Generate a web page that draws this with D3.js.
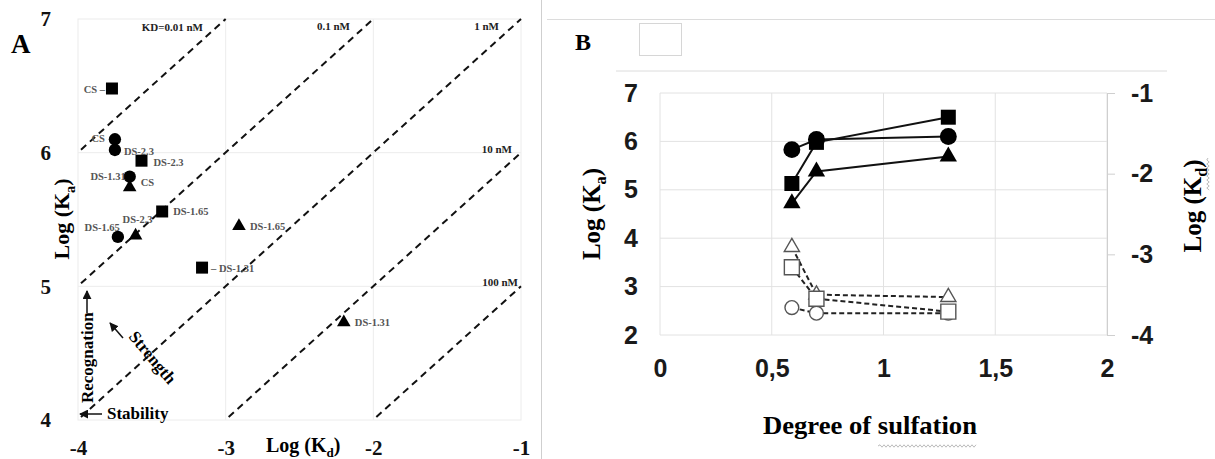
<!DOCTYPE html>
<html>
<head>
<meta charset="utf-8">
<script src="https://cdn.jsdelivr.net/npm/d3@7"></script>
<style>
  body { margin: 0; background: #fff; }
  svg { display: block; }
  .serif { font-family: "Liberation Serif", "Times New Roman", serif; font-weight: bold; }
  .sans { font-family: "Liberation Sans", Arial, sans-serif; font-weight: bold; }
</style>
</head>
<body>
<script>
// ---- panel A data ----
const kdLineIntercepts = [10, 9, 8, 7, 6];           // log Ka = log Kd + c
const kdLineLabels = ["KD=0.01 nM", "0.1 nM", "1 nM", "10 nM", "100 nM"];
const ticksAx = [-4, -3, -2, -1];
const ticksAy = [4, 5, 6, 7];

const pointShapesA = ["square", "circle", "circle", "square", "circle", "triangle",
                      "square", "circle", "triangle", "triangle", "square", "triangle"];
const pointLogKd = [-3.77, -3.75, -3.75, -3.57, -3.65, -3.65, -3.43, -3.73, -3.61, -2.91, -3.16, -2.20];
const pointLogKa = [6.48, 6.10, 6.02, 5.94, 5.82, 5.74, 5.56, 5.37, 5.38, 5.45, 5.14, 4.73];
const pointNames = ["CS \u2013", "CS", "DS-2.3", "DS-2.3", "DS-1.31", "CS",
                    "DS-1.65", "DS-1.65", "DS-2.3", "DS-1.65", "\u2013 DS-1.31", "DS-1.31"];
// label placement (dx, dy, anchor) per point
const labelPlace = [[-7, 4, "end"], [-10, 3, "end"], [9, 5, "start"], [12, 5, "start"],
                    [-4, 3, "end"], [11, -1, "start"], [11, 4, "start"], [2, -6, "end"],
                    [2, -13, "middle"], [11, 4, "start"], [9, 4, "start"], [11, 4, "start"]];

// ---- panel B data ----
const degree = [0.59, 0.70, 1.29];
const ticksBx = [0, 0.5, 1, 1.5, 2];
const ticksBy = [2, 3, 4, 5, 6, 7];
const ticksBy2 = [-4, -3, -2, -1];
const kaCircle = [5.83, 6.04, 6.10];
const kaSquare = [5.13, 5.98, 6.50];
const kaTriangle = [4.72, 5.38, 5.69];
const kdCircle = [-3.66, -3.73, -3.73];
const kdSquare = [-3.16, -3.55, -3.71];
const kdTriangle = [-2.91, -3.50, -3.53];

const W = 1215, H = 459;
const svg = d3.select("body").append("svg").attr("width", W).attr("height", H);

const symType = { square: d3.symbolSquare, circle: d3.symbolCircle, triangle: d3.symbolTriangle };

function subTitle(g, sub, size, transform, anchor) {
  const t = g.append("text").attr("class", "serif").attr("font-size", size)
    .attr("transform", transform).attr("text-anchor", anchor);
  t.append("tspan").text("Log (K");
  t.append("tspan").attr("font-size", size * 0.65).attr("dy", size * 0.25).text(sub);
  t.append("tspan").attr("dy", -size * 0.25).text(")");
  return t;
}

// ================= Panel A =================
const xA = d3.scaleLinear().domain([-4, -1]).range([78, 521]);
const yA = d3.scaleLinear().domain([4, 7]).range([420, 19]);
const gA = svg.append("g");

gA.append("rect").attr("x", 78).attr("y", 19).attr("width", 443).attr("height", 401)
  .attr("fill", "none").attr("stroke", "#ececec");
gA.selectAll(".gx").data([-3, -2]).enter().append("line")
  .attr("x1", d => xA(d)).attr("x2", d => xA(d)).attr("y1", 19).attr("y2", 420)
  .attr("stroke", "#ececec");
gA.selectAll(".gy").data([5, 6]).enter().append("line")
  .attr("y1", d => yA(d)).attr("y2", d => yA(d)).attr("x1", 78).attr("x2", 521)
  .attr("stroke", "#ececec");

// iso-KD dashed lines, clipped to the plot
const kdSegs = kdLineIntercepts.map(c => {
  const x0 = Math.max(-4, 4 - c), x1 = Math.min(-1, 7 - c);
  return { c, x0, x1 };
});
gA.selectAll(".kd").data(kdSegs).enter().append("line")
  .attr("x1", d => xA(d.x0) + 3).attr("y1", d => yA(d.x0 + d.c) - 3)
  .attr("x2", d => xA(d.x1)).attr("y2", d => yA(d.x1 + d.c))
  .attr("stroke", "#111").attr("stroke-width", 2).attr("stroke-dasharray", "7,5");

const kdLabelPos = [[203, 31], [350, 30], [499, 30], [512, 153], [518, 286]];
gA.selectAll(".kdl").data(kdLineLabels).enter().append("text")
  .attr("class", "serif").attr("x", (d, i) => kdLabelPos[i][0]).attr("y", (d, i) => kdLabelPos[i][1])
  .attr("text-anchor", "end").attr("font-size", 11).attr("fill", "#222").text(d => d);

// axes
const axAy = d3.axisLeft(yA).tickValues(ticksAy).tickSize(0).tickPadding(27).tickFormat(d => String(d));
gA.append("g").attr("transform", "translate(78,0)").call(axAy)
  .call(g => g.select(".domain").remove())
  .selectAll("text").attr("class", "serif").attr("font-size", 21).attr("fill", "#111");
const axAx = d3.axisBottom(xA).tickValues(ticksAx).tickSize(0).tickPadding(20).tickFormat(d => String(d));
gA.append("g").attr("transform", "translate(0,420)").call(axAx)
  .call(g => g.select(".domain").remove())
  .selectAll("text").attr("class", "serif").attr("font-size", 21).attr("fill", "#111");

gA.append("text").attr("class", "serif").attr("x", 11).attr("y", 53).attr("font-size", 27).text("A");

subTitle(gA, "a", 22, "translate(69,219) rotate(-90)", "middle");
subTitle(gA, "d", 20, "translate(266,452)", "start");

// annotations
gA.append("text").attr("class", "serif").attr("font-size", 17)
  .attr("transform", "translate(93,403) rotate(-90)").text("Recognation");
gA.append("text").attr("class", "serif").attr("font-size", 17)
  .attr("x", 107).attr("y", 419).text("Stability");
gA.append("text").attr("class", "serif").attr("font-size", 17)
  .attr("transform", "translate(128,337) rotate(50)").text("Strength");

svg.append("defs").append("marker").attr("id", "arr").attr("viewBox", "0 0 10 10")
  .attr("refX", 9).attr("refY", 5).attr("markerWidth", 6).attr("markerHeight", 6)
  .attr("orient", "auto").append("path").attr("d", "M0,0L10,5L0,10z").attr("fill", "#111");
const arrows = [[87, 313, 87, 291], [102, 414, 80, 414], [123, 338, 110, 323]];
gA.selectAll(".arr").data(arrows).enter().append("line")
  .attr("x1", d => d[0]).attr("y1", d => d[1]).attr("x2", d => d[2]).attr("y2", d => d[3])
  .attr("stroke", "#111").attr("stroke-width", 1.5).attr("marker-end", "url(#arr)");

// points
const sizeA = { square: 144, circle: 120, triangle: 80 };
const ptsA = pointShapesA.map((s, i) => ({ s, kd: pointLogKd[i], ka: pointLogKa[i], name: pointNames[i], p: labelPlace[i] }));
gA.selectAll(".pt").data(ptsA).enter().append("path")
  .attr("transform", d => `translate(${xA(d.kd)},${yA(d.ka)})`)
  .attr("d", d => d3.symbol().type(symType[d.s]).size(sizeA[d.s])())
  .attr("fill", "#000");
gA.selectAll(".ptl").data(ptsA).enter().append("text")
  .attr("class", "serif").attr("font-size", 10.5).attr("fill", "#555")
  .attr("x", d => xA(d.kd) + d.p[0]).attr("y", d => yA(d.ka) + d.p[1])
  .attr("text-anchor", d => d.p[2]).text(d => d.name);

// ================= Panel B =================
svg.append("line").attr("x1", 541.5).attr("x2", 541.5).attr("y1", 0).attr("y2", H).attr("stroke", "#cfcfcf");
svg.append("line").attr("x1", 547).attr("x2", W).attr("y1", 19.5).attr("y2", 19.5).attr("stroke", "#dcdcdc");
svg.append("line").attr("x1", 616).attr("x2", 1167).attr("y1", 71).attr("y2", 71).attr("stroke", "#dcdcdc");
svg.append("rect").attr("x", 639.5).attr("y", 23.5).attr("width", 42).attr("height", 32)
  .attr("fill", "#fff").attr("stroke", "#d6d6d6");
svg.append("text").attr("class", "serif").attr("x", 575).attr("y", 50).attr("font-size", 24).text("B");

const xB = d3.scaleLinear().domain([0, 2]).range([660, 1107]);
const yB = d3.scaleLinear().domain([2, 7]).range([335, 93]);
const yB2 = d3.scaleLinear().domain([-4, -1]).range([335, 93]);
const gB = svg.append("g");

gB.selectAll(".bgx").data(ticksBx).enter().append("line")
  .attr("x1", d => xB(d)).attr("x2", d => xB(d)).attr("y1", 93).attr("y2", 335).attr("stroke", "#e2e2e2");
gB.selectAll(".bgy").data(ticksBy).enter().append("line")
  .attr("y1", d => yB(d)).attr("y2", d => yB(d)).attr("x1", 660).attr("x2", 1107).attr("stroke", "#e2e2e2");

const fmtComma = d => String(d).replace(".", ",");
gB.append("g").attr("transform", "translate(660,0)")
  .call(d3.axisLeft(yB).tickValues(ticksBy).tickSize(0).tickPadding(22).tickFormat(d => String(d)))
  .call(g => g.select(".domain").remove())
  .selectAll("text").attr("class", "sans").attr("font-size", 25).attr("fill", "#1a1a1a");
gB.append("g").attr("transform", "translate(0,335)")
  .call(d3.axisBottom(xB).tickValues(ticksBx).tickSize(0).tickPadding(24).tickFormat(fmtComma))
  .call(g => g.select(".domain").remove())
  .selectAll("text").attr("class", "sans").attr("font-size", 25).attr("fill", "#1a1a1a");
const axR = gB.append("g").attr("transform", "translate(1107,0)")
  .call(d3.axisRight(yB2).tickValues(ticksBy2).tickSize(8).tickPadding(16).tickFormat(d => String(d)));
axR.select(".domain").attr("stroke", "#cfcfcf");
axR.selectAll("line").attr("stroke", "#cfcfcf");
axR.selectAll("text").attr("class", "sans").attr("font-size", 25).attr("fill", "#1a1a1a");

subTitle(gB, "a", 25, "translate(600,214) rotate(-90)", "middle");
subTitle(gB, "d", 25, "translate(1201,206) rotate(-90)", "middle");
gB.append("text").attr("class", "serif").attr("font-size", 25).attr("x", 763).attr("y", 434)
  .attr("textLength", 214).attr("lengthAdjust", "spacingAndGlyphs").text("Degree of sulfation");

// spell-check squiggles
let wav = "M878,446";
for (let x = 880; x <= 977; x += 2) wav += `L${x},${446 + ((x / 2) % 2 ? 1.2 : -1.2)}`;
gB.append("path").attr("d", wav).attr("fill", "none").attr("stroke", "#aaa").attr("stroke-width", 0.8);
let wav2 = "M1208,158";
for (let y = 160; y <= 190; y += 2) wav2 += `L${1208 + ((y / 2) % 2 ? 1.2 : -1.2)},${y}`;
gB.append("path").attr("d", wav2).attr("fill", "none").attr("stroke", "#aaa").attr("stroke-width", 0.8);

// series
const openSeries = [
  { s: "triangle", v: kdTriangle, size: 100 },
  { s: "circle", v: kdCircle, size: 150 },
  { s: "square", v: kdSquare, size: 225 }
];
const filledSeries = [
  { s: "triangle", v: kaTriangle, size: 130 },
  { s: "circle", v: kaCircle, size: 225 },
  { s: "square", v: kaSquare, size: 225 }
];

openSeries.forEach(ser => {
  const pts = degree.map((x, i) => [xB(x), yB2(ser.v[i])]);
  gB.append("path").attr("d", d3.line()(pts)).attr("fill", "none")
    .attr("stroke", "#222").attr("stroke-width", 2).attr("stroke-dasharray", "5,3");
});
openSeries.forEach(ser => {
  gB.selectAll(null).data(degree).enter().append("path")
    .attr("transform", (x, i) => `translate(${xB(x)},${yB2(ser.v[i])})`)
    .attr("d", d3.symbol().type(symType[ser.s]).size(ser.size)())
    .attr("fill", "#fff").attr("stroke", "#555").attr("stroke-width", 1.4);
});
filledSeries.forEach(ser => {
  const pts = degree.map((x, i) => [xB(x), yB(ser.v[i])]);
  gB.append("path").attr("d", d3.line()(pts)).attr("fill", "none")
    .attr("stroke", "#111").attr("stroke-width", 2);
});
filledSeries.forEach(ser => {
  gB.selectAll(null).data(degree).enter().append("path")
    .attr("transform", (x, i) => `translate(${xB(x)},${yB(ser.v[i])})`)
    .attr("d", d3.symbol().type(symType[ser.s]).size(ser.size)())
    .attr("fill", "#000");
});
</script>
</body>
</html>
